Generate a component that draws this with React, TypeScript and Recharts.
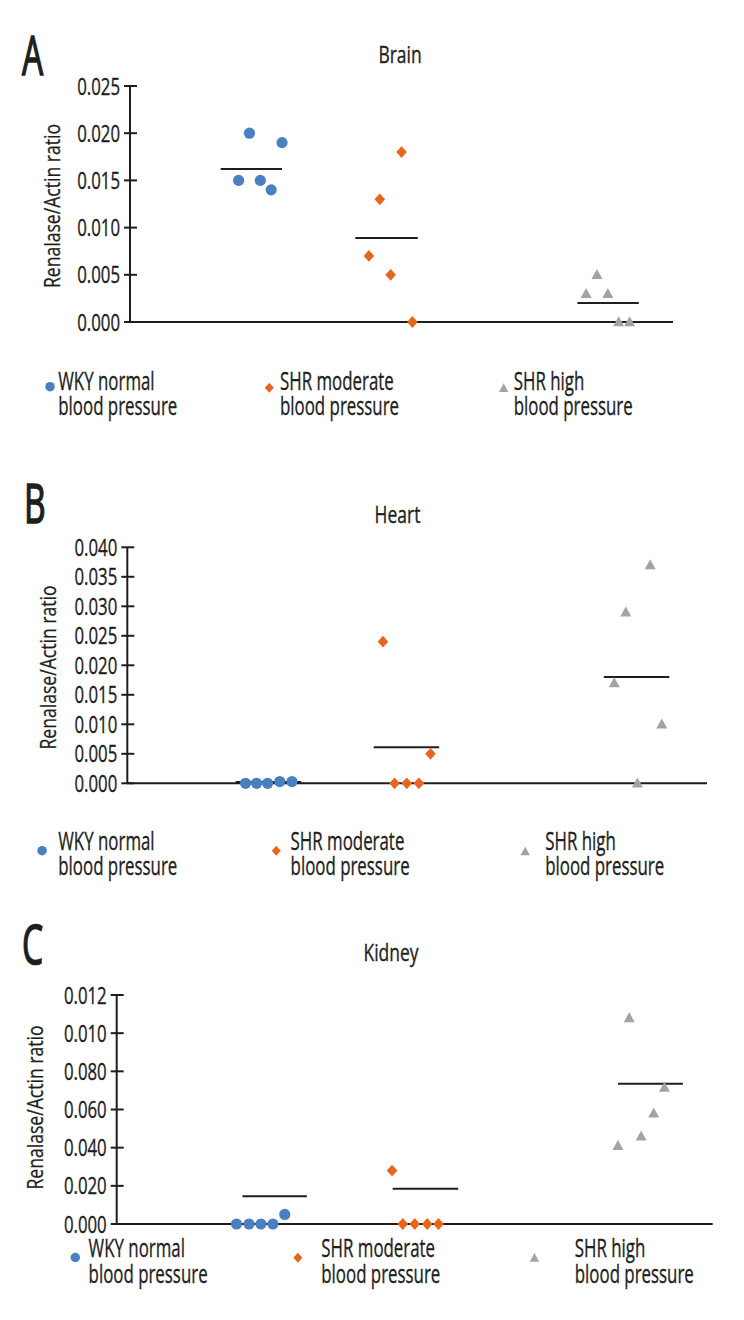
import React from 'react';
import { ScatterChart, Scatter, XAxis, YAxis, ReferenceLine } from 'recharts';

const FONT = '"Open Sans", "Noto Sans", sans-serif';
const INK = '#1e1e1e';

// ---------- shared ----------
const groupNames = ['WKY normal', 'SHR moderate', 'SHR high'];
const groupLine2 = ['blood pressure', 'blood pressure', 'blood pressure'];
const groupColors = ['#4a7fc0', '#e8661c', '#a3a3a3'];
const groupShapes = ['circle', 'diamond', 'triangle'];
const yLabel = 'Renalase/Actin ratio';

// ---------- Brain (A) ----------
const brainTicks = [0, 0.005, 0.01, 0.015, 0.02, 0.025];
const brainTickLabels = ['0.000', '0.005', '0.010', '0.015', '0.020', '0.025'];
const brainWkyX = [2.0, 2.2, 2.4, 2.6, 2.8];
const brainWkyY = [0.015, 0.02, 0.015, 0.014, 0.019];
const brainModX = [4.4, 4.6, 4.8, 5.0, 5.2];
const brainModY = [0.007, 0.013, 0.005, 0.018, 0.0];
const brainHighX = [8.4, 8.6, 8.8, 9.0, 9.2];
const brainHighY = [0.003, 0.005, 0.003, 0.0, 0.0];
const brainMeans = [0.0162, 0.0089, 0.002];
const brainMeanSpan = [[1.67, 2.8], [4.15, 5.3], [8.24, 9.37]];

// ---------- Heart (B) ----------
const heartTicks = [0, 0.005, 0.01, 0.015, 0.02, 0.025, 0.03, 0.035, 0.04];
const heartTickLabels = ['0.000', '0.005', '0.010', '0.015', '0.020', '0.025', '0.030', '0.035', '0.040'];
const heartWkyX = [2.04, 2.23, 2.42, 2.63, 2.84];
const heartWkyY = [0.0, 0.0, 0.0, 0.0003, 0.0003];
const heartModX = [4.41, 4.61, 4.82, 5.03, 5.23];
const heartModY = [0.024, 0.0, 0.0, 0.0, 0.005];
const heartHighX = [8.4, 8.6, 8.8, 9.02, 9.22];
const heartHighY = [0.017, 0.029, 0.0, 0.037, 0.01];
const heartMeans = [0.0002, 0.0061, 0.018];
const heartMeanSpan = [[1.87, 3.0], [4.25, 5.38], [8.22, 9.35]];

// ---------- Kidney (C) ----------
const kidneyTicks = [0, 0.02, 0.04, 0.06, 0.08, 0.1, 0.12];
const kidneyTickLabels = ['0.000', '0.020', '0.040', '0.060', '0.080', '0.010', '0.012'];
const kidneyWkyX = [2.01, 2.22, 2.42, 2.62, 2.82];
const kidneyWkyY = [0.0, 0.0, 0.0, 0.0, 0.005];
const kidneyModX = [4.62, 4.8, 5.0, 5.21, 5.4];
const kidneyModY = [0.028, 0.0, 0.0, 0.0, 0.0];
const kidneyHighX = [8.41, 8.6, 8.8, 9.01, 9.19];
const kidneyHighY = [0.041, 0.108, 0.046, 0.058, 0.0715];
const kidneyMeans = [0.0145, 0.0185, 0.0735];
const kidneyMeanSpan = [[2.11, 3.19], [4.63, 5.73], [8.41, 9.5]];

const zip = (xs: number[], ys: number[]) => xs.map((x, i) => ({ x, y: ys[i] }));

// ---------- marker shapes ----------
const Marker = ({ kind, cx, cy, color, k = 1 }: any) => {
  if (kind === 'circle') return <circle cx={cx} cy={cy} r={5.6 * k} fill={color} />;
  if (kind === 'diamond') {
    const w = 5.3 * k, h = 5.9 * k;
    return <polygon points={`${cx},${cy - h} ${cx + w},${cy} ${cx},${cy + h} ${cx - w},${cy}`} fill={color} />;
  }
  const w = 5.5 * k, up = 5.8 * k, dn = 4.3 * k;
  return <polygon points={`${cx},${cy - up} ${cx + w},${cy + dn} ${cx - w},${cy + dn}`} fill={color} />;
};

const shapeFor = (i: number) => (p: any) => <Marker kind={groupShapes[i]} cx={p.cx} cy={p.cy} color={groupColors[i]} />;

// ---------- compressed text ----------
const CText = ({ x, y, size, sx, anchor = 'start', rotate = 0, sw = 0.35, children }: any) => (
  <text
    transform={`translate(${x},${y}) rotate(${rotate}) scale(${sx},1)`}
    fontSize={size}
    fontFamily={FONT}
    textAnchor={anchor}
    fill={INK}
    stroke={INK}
    strokeWidth={sw}
  >
    {children}
  </text>
);

const makeTick = (labels: string[]) => (p: any) => {
  const { x, y, index } = p;
  return (
    <g transform={`translate(${x},${y})`}>
      <line x1={-6} x2={7} y1={0} y2={0} stroke={INK} strokeWidth={2} />
      <text
        transform={`translate(-10,8.5) scale(0.7,1)`}
        fontSize={24}
        fontFamily={FONT}
        textAnchor="end"
        fill={INK}
        stroke={INK}
        strokeWidth={0.35}
      >
        {labels[index]}
      </text>
    </g>
  );
};

const panels = [
  {
    top: 0,
    margin: { top: 86, right: 71, bottom: 118, left: 70 },
    ticks: brainTicks,
    tickLabels: brainTickLabels,
    series: [zip(brainWkyX, brainWkyY), zip(brainModX, brainModY), zip(brainHighX, brainHighY)],
    means: brainMeans,
    spans: brainMeanSpan,
    letter: 'A', letterPos: [22, 75],
    title: 'Brain', titlePos: [400, 63],
    ylabPos: [60, 206],
    legMarkers: [[50, 386.7], [269.3, 387.7], [503.7, 388.3]],
    legText: [58.3, 280, 513.7],
    legBase: [390, 415],
  },
  {
    top: 440,
    margin: { top: 107.3, right: 37, bottom: 96.7, left: 67.3 },
    ticks: heartTicks,
    tickLabels: heartTickLabels,
    series: [zip(heartWkyX, heartWkyY), zip(heartModX, heartModY), zip(heartHighX, heartHighY)],
    means: heartMeans,
    spans: heartMeanSpan,
    letter: 'B', letterPos: [24, 523],
    title: 'Heart', titlePos: [397.5, 523],
    ylabPos: [56, 667.5],
    legMarkers: [[42.1, 850.7], [276.3, 850.7], [525.2, 851.7]],
    legText: [58.3, 290.6, 545.2],
    legBase: [850, 875],
  },
  {
    top: 880,
    margin: { top: 115, right: 31.3, bottom: 96, left: 56.7 },
    ticks: kidneyTicks,
    tickLabels: kidneyTickLabels,
    series: [zip(kidneyWkyX, kidneyWkyY), zip(kidneyModX, kidneyModY), zip(kidneyHighX, kidneyHighY)],
    means: kidneyMeans,
    spans: kidneyMeanSpan,
    letter: 'C', letterPos: [22, 964],
    title: 'Kidney', titlePos: [391, 961],
    ylabPos: [43, 1107.5],
    legMarkers: [[75.3, 1257.5], [297.9, 1257.7], [534.4, 1258]],
    legText: [88.6, 321.3, 574.8],
    legBase: [1257, 1283],
  },
];

const Panel = ({ cfg }: any) => {
  const max = cfg.ticks[cfg.ticks.length - 1];
  return (
    <div style={{ position: 'absolute', left: 0, top: cfg.top, width: 744, height: 440 }}>
      <ScatterChart width={744} height={440} margin={cfg.margin}>
        <XAxis type="number" dataKey="x" domain={[0, 10]} hide />
        <YAxis
          type="number"
          dataKey="y"
          domain={[0, max]}
          ticks={cfg.ticks}
          interval={0}
          width={60}
          axisLine={{ stroke: INK, strokeWidth: 2 }}
          tickLine={false}
          tickSize={0}
          tickMargin={0}
          tick={makeTick(cfg.tickLabels)}
        />
        <ReferenceLine y={0} stroke={INK} strokeWidth={2} />
        {cfg.means.map((m: number, i: number) => (
          <ReferenceLine
            key={'m' + i}
            segment={[{ x: cfg.spans[i][0], y: m }, { x: cfg.spans[i][1], y: m }]}
            stroke={INK}
            strokeWidth={2}
          />
        ))}
        {cfg.series.map((d: any[], i: number) => (
          <Scatter
            key={'s' + i}
            name={groupNames[i]}
            data={d}
            fill={groupColors[i]}
            shape={shapeFor(i)}
            isAnimationActive={false}
          />
        ))}
      </ScatterChart>
    </div>
  );
};

const Overlay = () => (
  <svg
    width={744}
    height={1320}
    style={{ position: 'absolute', left: 0, top: 0, pointerEvents: 'none' }}
  >
    {panels.map((cfg, pi) => (
      <g key={pi}>
        <CText x={cfg.letterPos[0]} y={cfg.letterPos[1]} size={54} sx={0.62} sw={1.6}>{cfg.letter}</CText>
        <CText x={cfg.titlePos[0]} y={cfg.titlePos[1]} size={23} sx={0.76} anchor="middle">{cfg.title}</CText>
        <CText x={cfg.ylabPos[0]} y={cfg.ylabPos[1]} size={22} sx={0.8} anchor="middle" rotate={-90} sw={0.3}>{yLabel}</CText>
        {groupNames.map((n, i) => (
          <g key={i}>
            <Marker kind={groupShapes[i]} cx={cfg.legMarkers[i][0]} cy={cfg.legMarkers[i][1]} color={groupColors[i]} k={0.85} />
            <CText x={cfg.legText[i]} y={cfg.legBase[0]} size={25} sx={0.675}>{n}</CText>
            <CText x={cfg.legText[i]} y={cfg.legBase[1]} size={25} sx={0.675}>{groupLine2[i]}</CText>
          </g>
        ))}
      </g>
    ))}
  </svg>
);

export default function App() {
  return (
    <div style={{ position: 'absolute', left: 0, top: 0, width: 744, height: 1320, background: '#fff' }}>
      {panels.map((cfg, i) => (
        <Panel key={i} cfg={cfg} />
      ))}
      <Overlay />
    </div>
  );
}
